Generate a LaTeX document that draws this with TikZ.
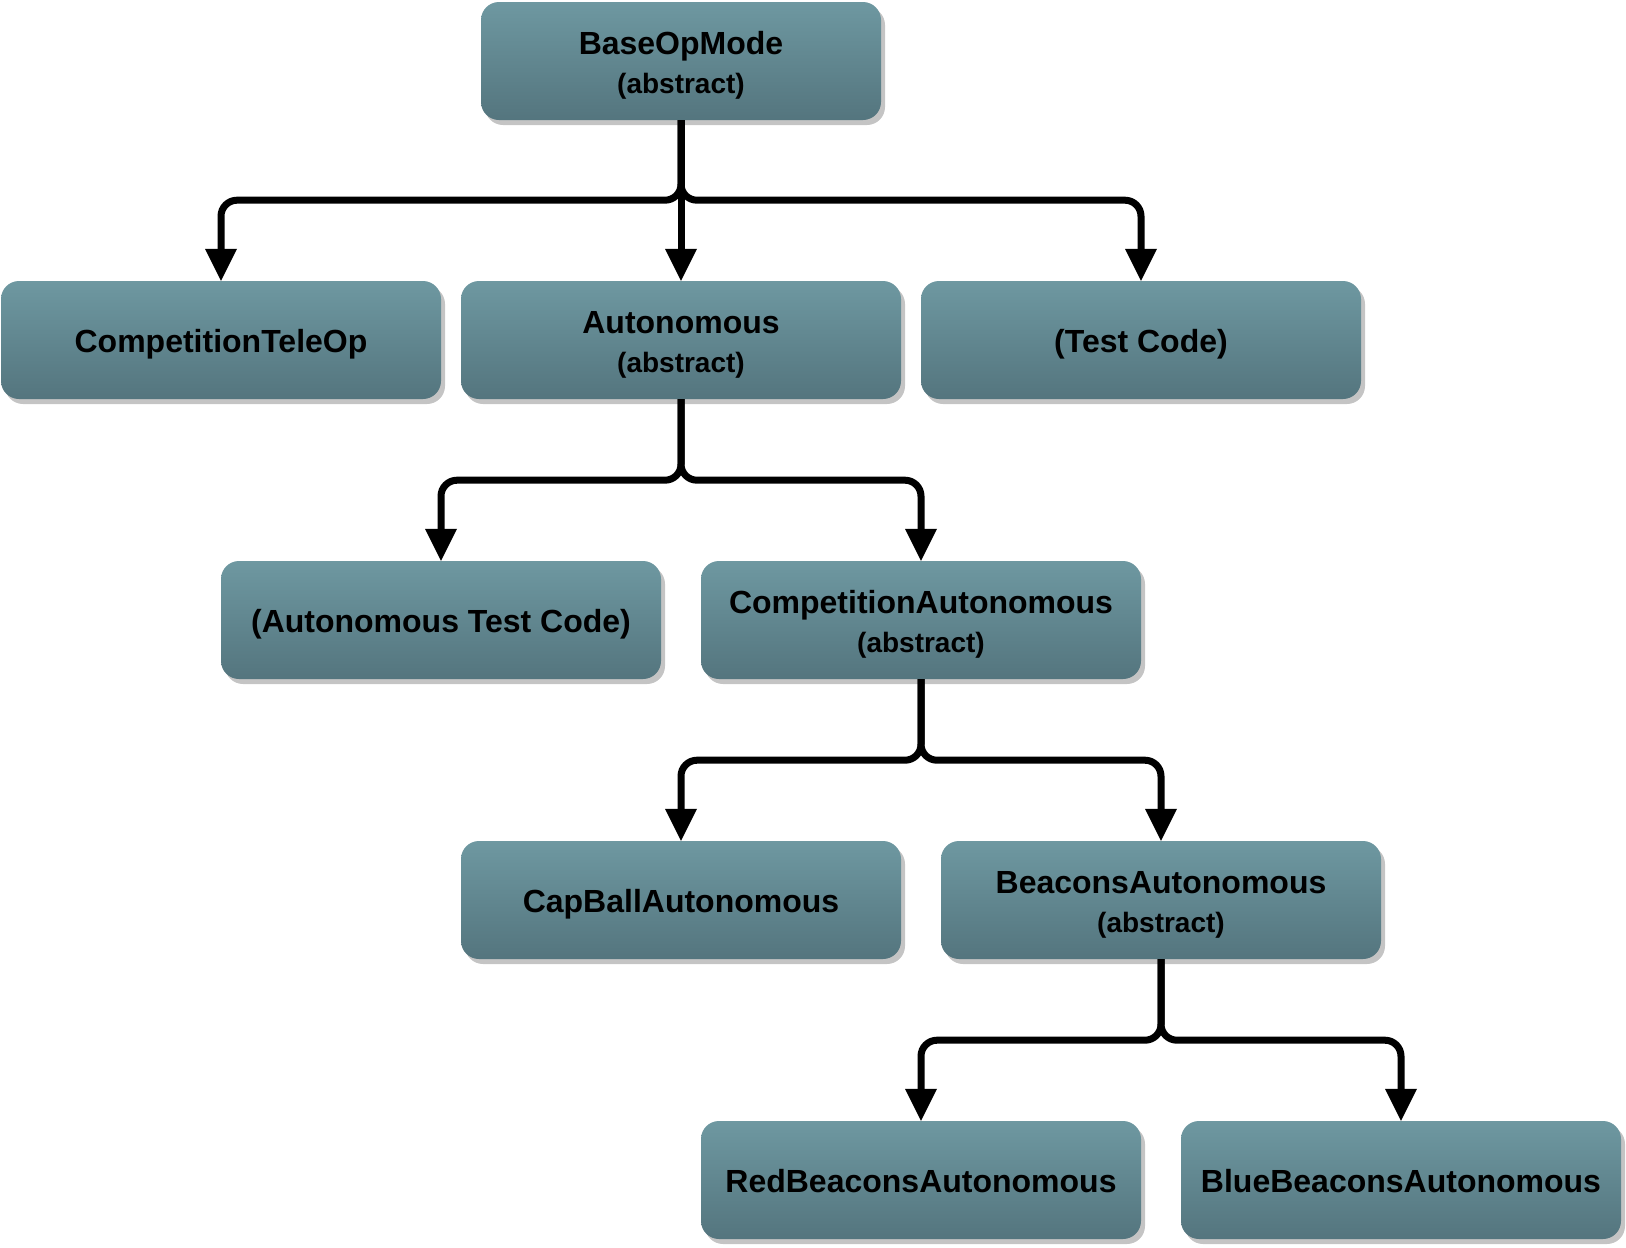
\documentclass[tikz,border=0pt]{standalone}
\usepackage{fontspec}
\setmainfont{Liberation Sans}
\usetikzlibrary{arrows.meta,shadows}
\definecolor{boxtop}{HTML}{6E98A1}
\definecolor{boxbot}{HTML}{54757E}
\definecolor{shadowgrey}{HTML}{C4C4C4}
\newcommand{\topstrut}{\rule{0pt}{31pt}}
\newcommand{\botstrut}{\rule[-7pt]{0pt}{7pt}}
\tikzset{
  box/.style={rectangle, rounded corners=18pt, minimum width=440pt, minimum height=118pt,
    inner sep=0pt, top color=boxtop, bottom color=boxbot, draw=none,
    font=\bfseries\fontsize{32}{39}\selectfont, text=black, align=center,
    execute at begin node=\topstrut, execute at end node=\botstrut,
    drop shadow={shadow xshift=4pt, shadow yshift=-5pt, fill=shadowgrey, opacity=1}},
  edge/.style={line width=7pt, rounded corners=16pt, line join=miter,
    -{Triangle[length=32pt,width=32pt,line width=0pt]}},
}
\newcommand{\twoline}[1]{\rule{0pt}{33pt}#1\\{\fontsize{28}{39}\selectfont (abstract)}}
\begin{document}
\begin{tikzpicture}[x=1pt,y=-1pt]
\useasboundingbox (0,0) rectangle (1626,1248);
\node[box, minimum width=400pt] (base) at (681,61) {\twoline{BaseOpMode}};
\node[box] (tele) at (221,340) {CompetitionTeleOp};
\node[box] (auto) at (681,340) {\twoline{Autonomous}};
\node[box] (test) at (1141,340) {(Test Code)};
\node[box] (atest) at (441,620) {(Autonomous Test Code)};
\node[box] (comp) at (921,620) {\twoline{CompetitionAutonomous}};
\node[box] (cap) at (681,900) {CapBallAutonomous};
\node[box] (beac) at (1161,900) {\twoline{BeaconsAutonomous}};
\node[box] (red) at (921,1180) {RedBeaconsAutonomous};
\node[box] (blue) at (1401,1180) {BlueBeaconsAutonomous};
\draw[edge] (base.south) -- ++(0,80) -| (tele.north);
\draw[edge] (base.south) -- (auto.north);
\draw[edge] (base.south) -- ++(0,80) -| (test.north);
\draw[edge] (auto.south) -- ++(0,81) -| (atest.north);
\draw[edge] (auto.south) -- ++(0,81) -| (comp.north);
\draw[edge] (comp.south) -- ++(0,81) -| (cap.north);
\draw[edge] (comp.south) -- ++(0,81) -| (beac.north);
\draw[edge] (beac.south) -- ++(0,81) -| (red.north);
\draw[edge] (beac.south) -- ++(0,81) -| (blue.north);
\end{tikzpicture}
\end{document}
